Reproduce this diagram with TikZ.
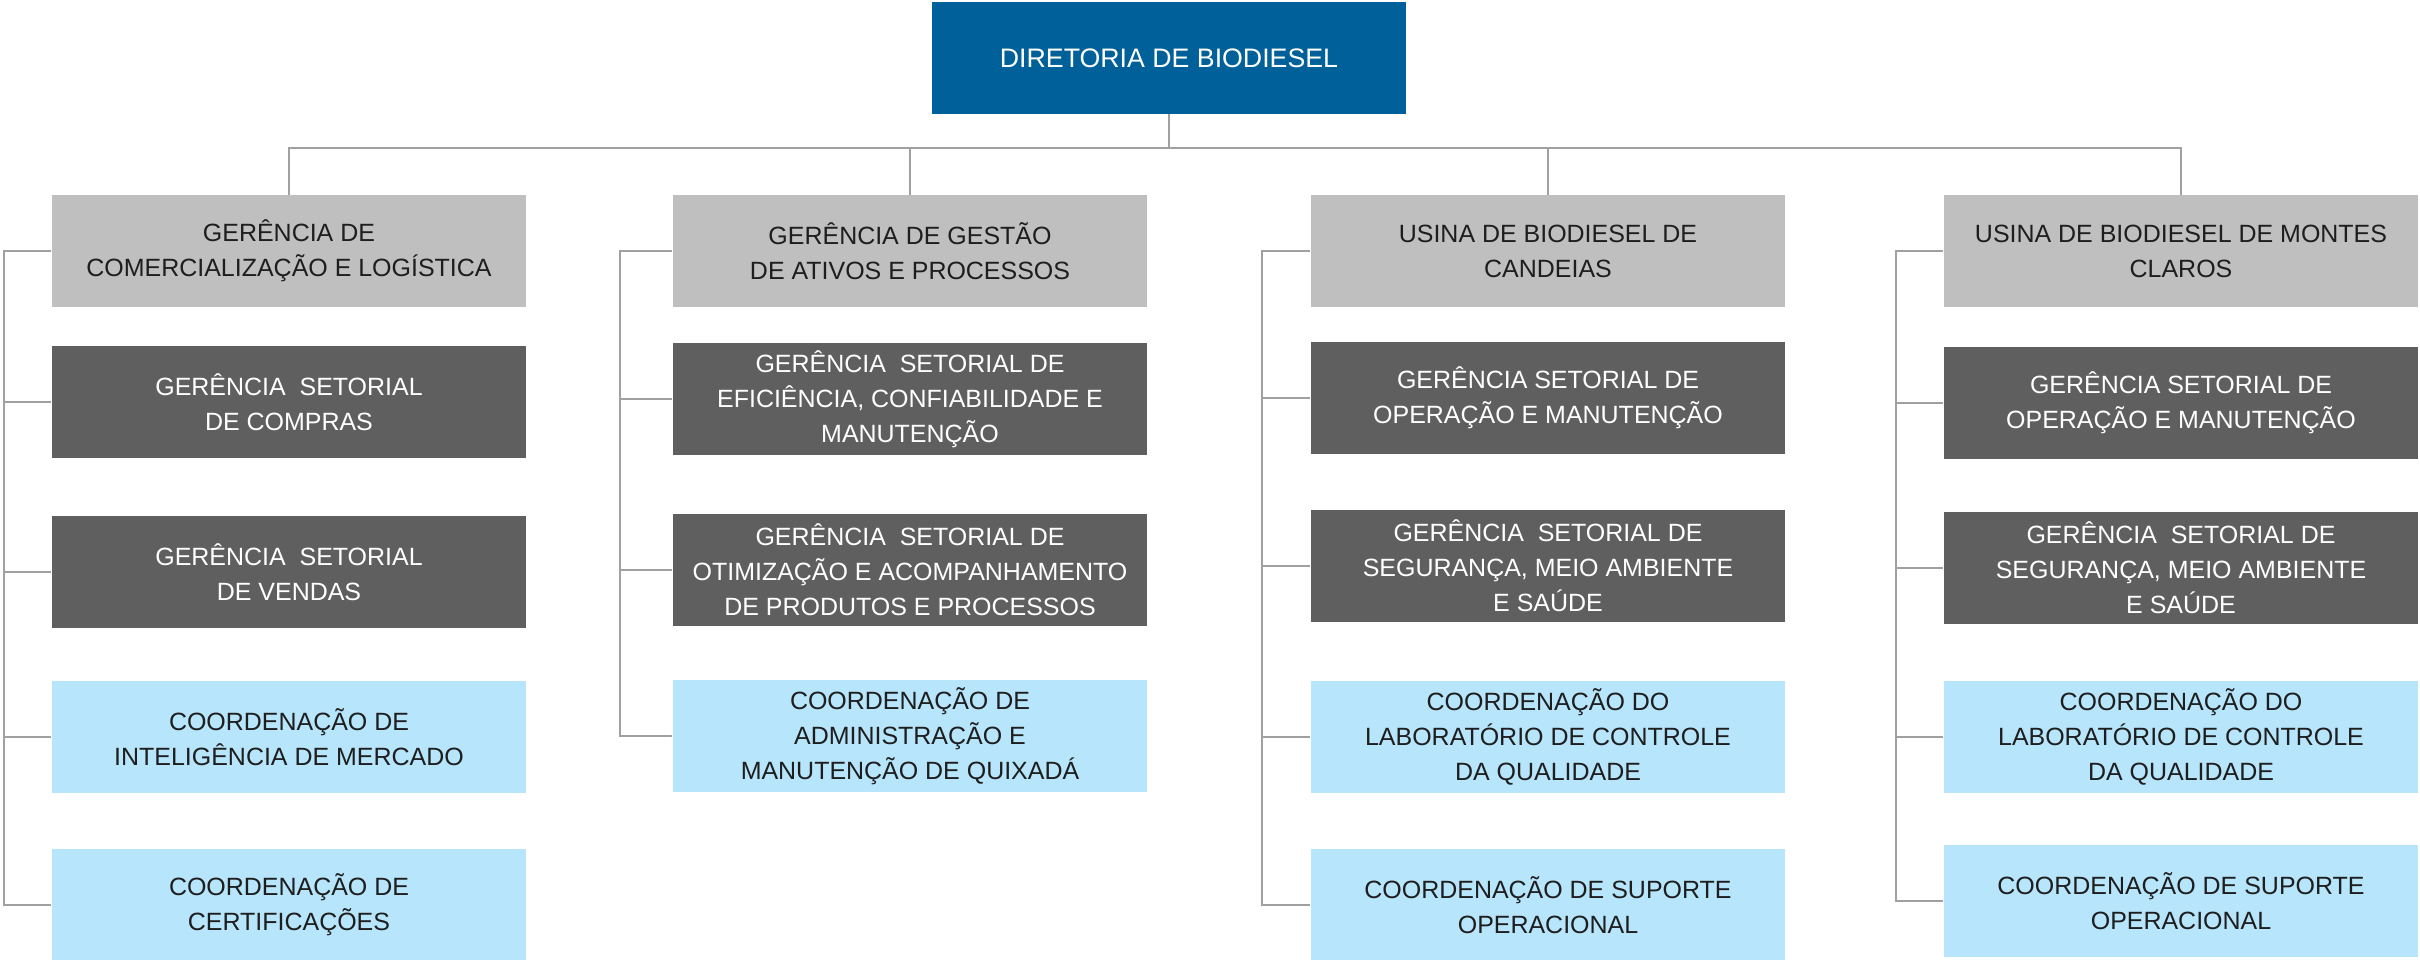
\documentclass[tikz,border=0pt]{standalone}
\usepackage{fontspec}
\setmainfont{Liberation Sans}
\usepackage{xcolor}
\usepackage{tikz}
\usetikzlibrary{calc}
\usetikzlibrary{positioning}

\definecolor{diretBlue}{RGB}{0,96,154}
\definecolor{gerGray}{RGB}{191,191,191}
\definecolor{setDark}{RGB}{95,95,95}
\definecolor{coordBlue}{RGB}{183,229,251}
\definecolor{linkGray}{RGB}{160,160,160}
\definecolor{txtDark}{RGB}{30,30,30}

\begin{document}
\begin{tikzpicture}[x=0.01cm,y=-0.01cm,
                    box/.style={rectangle,inner sep=1pt,align=center,minimum width=4.74cm,minimum height=1.11cm,
                                font=\fontsize{7.1}{9.96}\selectfont},
                    diretoria/.style={box,fill=diretBlue,text=white,font=\fontsize{7.6}{9.96}\selectfont},
                    gerencia/.style={box,fill=gerGray,text=txtDark},
                    setorial/.style={box,fill=setDark,text=white},
                    coordena/.style={box,fill=coordBlue,text=txtDark},
                    link/.style={draw=linkGray,line width=0.6pt}]
\useasboundingbox (0,0) rectangle (2420,959);

\node[diretoria] (Dir) at (1169,58) {DIRETORIA DE BIODIESEL};

% gerencias
\node[gerencia] (G1) at (289,251) {GERÊNCIA DE\\COMERCIALIZAÇÃO E LOGÍSTICA};
\node[gerencia] (G2) at (910,251) {GERÊNCIA DE GESTÃO\\DE ATIVOS E PROCESSOS};
\node[gerencia] (G3) at (1548,251) {USINA DE BIODIESEL DE\\CANDEIAS};
\node[gerencia] (G4) at (2181,251) {USINA DE BIODIESEL DE MONTES\\CLAROS};

% coluna 1
\node[setorial] (G1a) at (289,402) {GERÊNCIA~ SETORIAL\\DE COMPRAS};
\node[setorial] (G1b) at (289,572) {GERÊNCIA~ SETORIAL\\DE VENDAS};
\node[coordena] (G1c) at (289,737) {COORDENAÇÃO DE\\INTELIGÊNCIA DE MERCADO};
\node[coordena] (G1d) at (289,905) {COORDENAÇÃO DE\\CERTIFICAÇÕES};

% coluna 2
\node[setorial] (G2a) at (910,399) {GERÊNCIA~ SETORIAL DE\\EFICIÊNCIA, CONFIABILIDADE E\\MANUTENÇÃO};
\node[setorial] (G2b) at (910,570) {GERÊNCIA~ SETORIAL DE\\OTIMIZAÇÃO E ACOMPANHAMENTO\\DE PRODUTOS E PROCESSOS};
\node[coordena] (G2c) at (910,736) {COORDENAÇÃO DE\\ADMINISTRAÇÃO E\\MANUTENÇÃO DE QUIXADÁ};

% coluna 3
\node[setorial] (G3a) at (1548,398) {GERÊNCIA SETORIAL DE\\OPERAÇÃO E MANUTENÇÃO};
\node[setorial] (G3b) at (1548,566) {GERÊNCIA~ SETORIAL DE\\SEGURANÇA, MEIO AMBIENTE\\E SAÚDE};
\node[coordena] (G3c) at (1548,737) {COORDENAÇÃO DO\\LABORATÓRIO DE CONTROLE\\DA QUALIDADE};
\node[coordena] (G3d) at (1548,905) {COORDENAÇÃO DE SUPORTE\\OPERACIONAL};

% coluna 4
\node[setorial] (G4a) at (2181,403) {GERÊNCIA SETORIAL DE\\OPERAÇÃO E MANUTENÇÃO};
\node[setorial] (G4b) at (2181,568) {GERÊNCIA~ SETORIAL DE\\SEGURANÇA, MEIO AMBIENTE\\E SAÚDE};
\node[coordena] (G4c) at (2181,737) {COORDENAÇÃO DO\\LABORATÓRIO DE CONTROLE\\DA QUALIDADE};
\node[coordena] (G4d) at (2181,901) {COORDENAÇÃO DE SUPORTE\\OPERACIONAL};

% ligacoes
\coordinate (Bar) at (1169,148);
\draw[link] (Dir.south) -- (Bar);
\foreach \g in {G1,G2,G3,G4}
   \draw[link] (Bar) -| (\g.north);

\coordinate (T1) at (4,0);
\coordinate (T2) at (620,0);
\coordinate (T3) at (1262,0);
\coordinate (T4) at (1896,0);

\draw[link] (G1.west) -| (T1 |- G1d.west) -- (G1d.west);
\draw[link] (G2.west) -| (T2 |- G2c.west) -- (G2c.west);
\draw[link] (G3.west) -| (T3 |- G3d.west) -- (G3d.west);
\draw[link] (G4.west) -| (T4 |- G4d.west) -- (G4d.west);

\foreach \n in {a,b,c}
   {\draw[link] (T1 |- G1\n.west) -- (G1\n.west);
    \draw[link] (T2 |- G2\n.west) -- (G2\n.west);
    \draw[link] (T3 |- G3\n.west) -- (G3\n.west);
    \draw[link] (T4 |- G4\n.west) -- (G4\n.west);}

\end{tikzpicture}
\end{document}
